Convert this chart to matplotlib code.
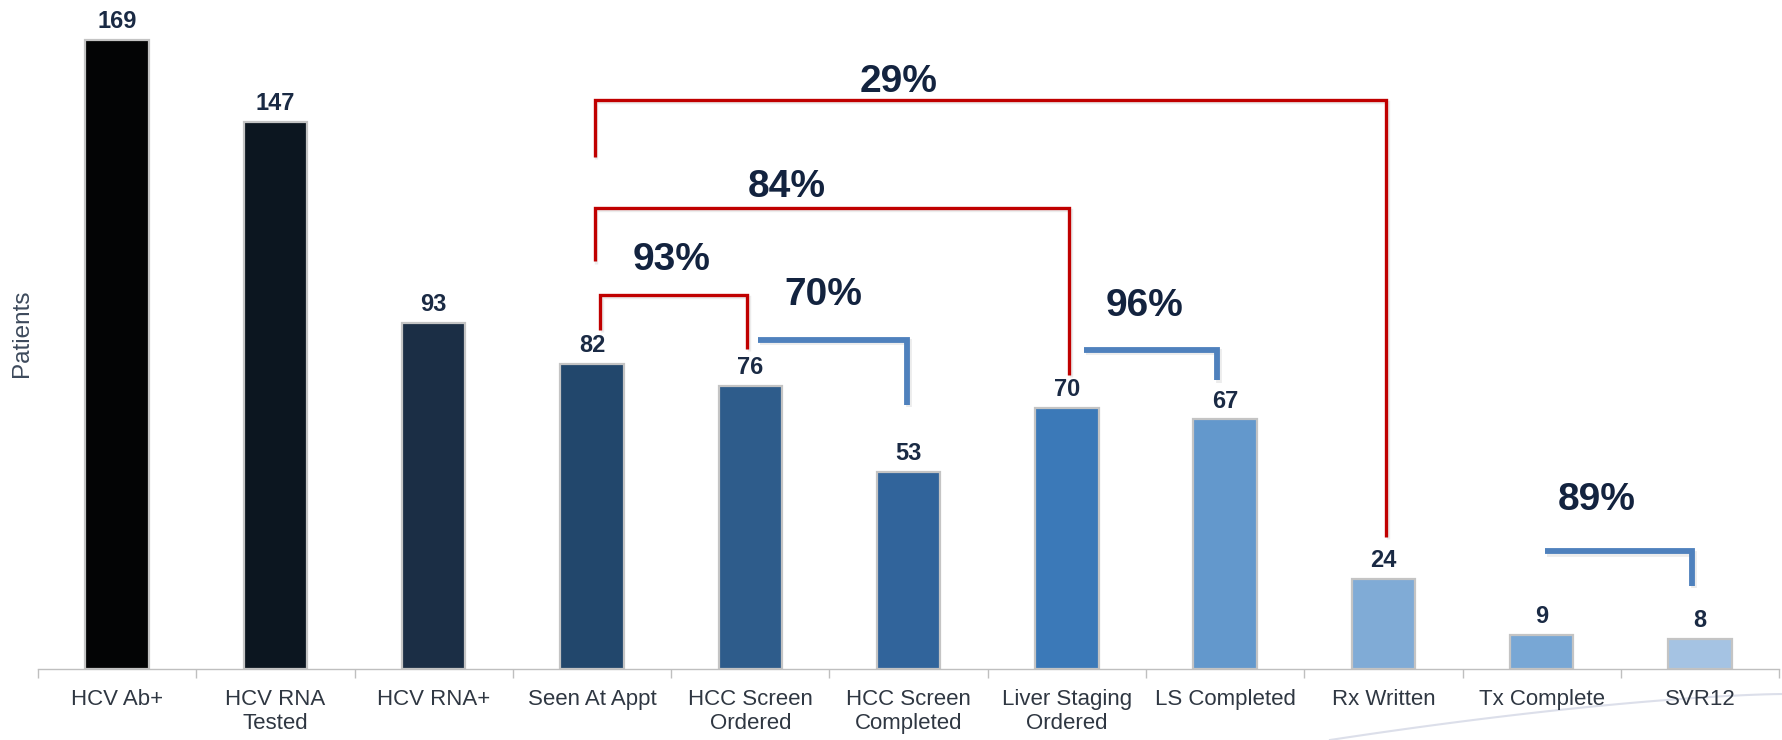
import matplotlib
matplotlib.use("Agg")
import matplotlib.pyplot as plt
from matplotlib import font_manager
import matplotlib.patheffects as pe
import numpy as np

categories = ["HCV Ab+", "HCV RNA\nTested", "HCV RNA+", "Seen At Appt", "HCC Screen\nOrdered",
              "HCC Screen\nCompleted", "Liver Staging\nOrdered", "LS Completed", "Rx Written",
              "Tx Complete", "SVR12"]
patients = [169, 147, 93, 82, 76, 53, 70, 67, 24, 9, 8]
bar_colors = ["#030405", "#0c1620", "#1b2e45", "#22476c", "#2e5c8b", "#31649b",
              "#3b79b8", "#6398cc", "#80abd6", "#78a7d5", "#a5c3e3"]

# brackets: label, from index, to index
bracket_labels = ["29%", "84%", "93%", "70%", "96%", "89%"]
bracket_from = [3, 3, 3, 4, 6, 9]
bracket_to = [8, 6, 4, 5, 7, 10]

names = {f.name for f in font_manager.fontManager.ttflist}
narrow = "Liberation Sans Narrow" if "Liberation Sans Narrow" in names else "Liberation Sans"
regular = "Liberation Sans"

W, H = 1783, 740
S = 1783 / 1568.0
fig = plt.figure(figsize=(W / 100, H / 100), dpi=100)
px_per_unit = 3.27 * S
base_y = 588 * S
ax_top = 10 * S
left_px, right_px = 33.4 * S, 1564.6 * S
ax = fig.add_axes([left_px / W, (H - base_y) / H, (right_px - left_px) / W, (base_y - ax_top) / H])
ax.set_xlim(-0.5, len(categories) - 0.5)
ax.set_ylim(0, (base_y - ax_top) / px_per_unit)

x = np.arange(len(categories))
ax.bar(x, patients, width=0.4, color=bar_colors, edgecolor="#c4c4c4", linewidth=1.6, zorder=2)

for xi, v in zip(x, patients):
    ax.annotate(str(v), (xi, v), xytext=(0, 5), textcoords="offset points",
                ha="center", va="bottom", fontsize=17, fontweight="bold",
                color="#1a2a44", family=narrow)

for s in ["top", "right", "left"]:
    ax.spines[s].set_visible(False)
ax.spines["bottom"].set_color("#bfbfbf")
ax.spines["bottom"].set_linewidth(1.0)
ax.set_yticks([])
ax.set_xticks(np.arange(len(categories) + 1) - 0.5, minor=True)
ax.tick_params(axis="x", which="minor", length=6.5, color="#bfbfbf", width=1)
ax.set_xticks(x)
ax.set_xticklabels(categories, fontsize=16, color="#2f3742", family=narrow, linespacing=1.15)
ax.tick_params(axis="x", which="major", length=0, pad=15)

fig.text(22 / W, 1 - 333 / H, "Patients", rotation=90, ha="center", va="center",
         fontsize=17.5, color="#3d4a5c", family=regular)

shadow = [pe.SimpleLineShadow(offset=(1.2, -1.5), shadow_color="#999999", alpha=0.18), pe.Normal()]

red = "#c00000"
blue = "#4f81bd"
# bracket geometry in data units (values)
br_top = [152.9, 123.9, 100.6, 88.4, 85.6, 31.5]
br_left_end = [137.6, 109.5, 91.1, None, None, None]
br_right_end = [35.5, 79.0, 86.0, 71.0, 77.5, 22.3]
br_dx_left = [0.017, 0.017, 0.053, 0.05, 0.11, 0.02]
br_dx_right = [0.017, 0.013, -0.02, -0.01, -0.05, -0.05]
lab_x = [4.94, 4.23, 3.5, 4.46, 6.49, 9.35]
lab_y = [157.8, 129.4, 109.8, 100.6, 97.6, 45.3]

for i, lab in enumerate(bracket_labels):
    x0 = bracket_from[i] + br_dx_left[i]
    x1 = bracket_to[i] + br_dx_right[i]
    is_red = br_left_end[i] is not None
    col = red if is_red else blue
    lw = 2.4 if is_red else 4.2
    if is_red:
        xs = [x0, x0, x1, x1]
        ys = [br_left_end[i], br_top[i], br_top[i], br_right_end[i]]
    else:
        xs = [x0, x1, x1]
        ys = [br_top[i], br_top[i], br_right_end[i]]
    ax.plot(xs, ys, color=col, lw=lw, solid_joinstyle="miter", solid_capstyle="butt",
            path_effects=shadow, zorder=3, clip_on=False)
    ax.text(lab_x[i], lab_y[i], lab, ha="center", va="center", fontsize=28,
            fontweight="bold", color="#13233f", family=narrow, zorder=4)

# faint decorative swoosh at bottom right
t = np.linspace(0, 1, 50)
sx = 1330 + t * (1783 - 1330)
sy = 740 - (46 * (1 - (1 - t) ** 1.5))
fig.add_artist(plt.Line2D(sx / W, 1 - sy / H, color="#dcdfea", lw=1.5, transform=fig.transFigure, zorder=0))

fig.savefig("out.png", dpi=100)
